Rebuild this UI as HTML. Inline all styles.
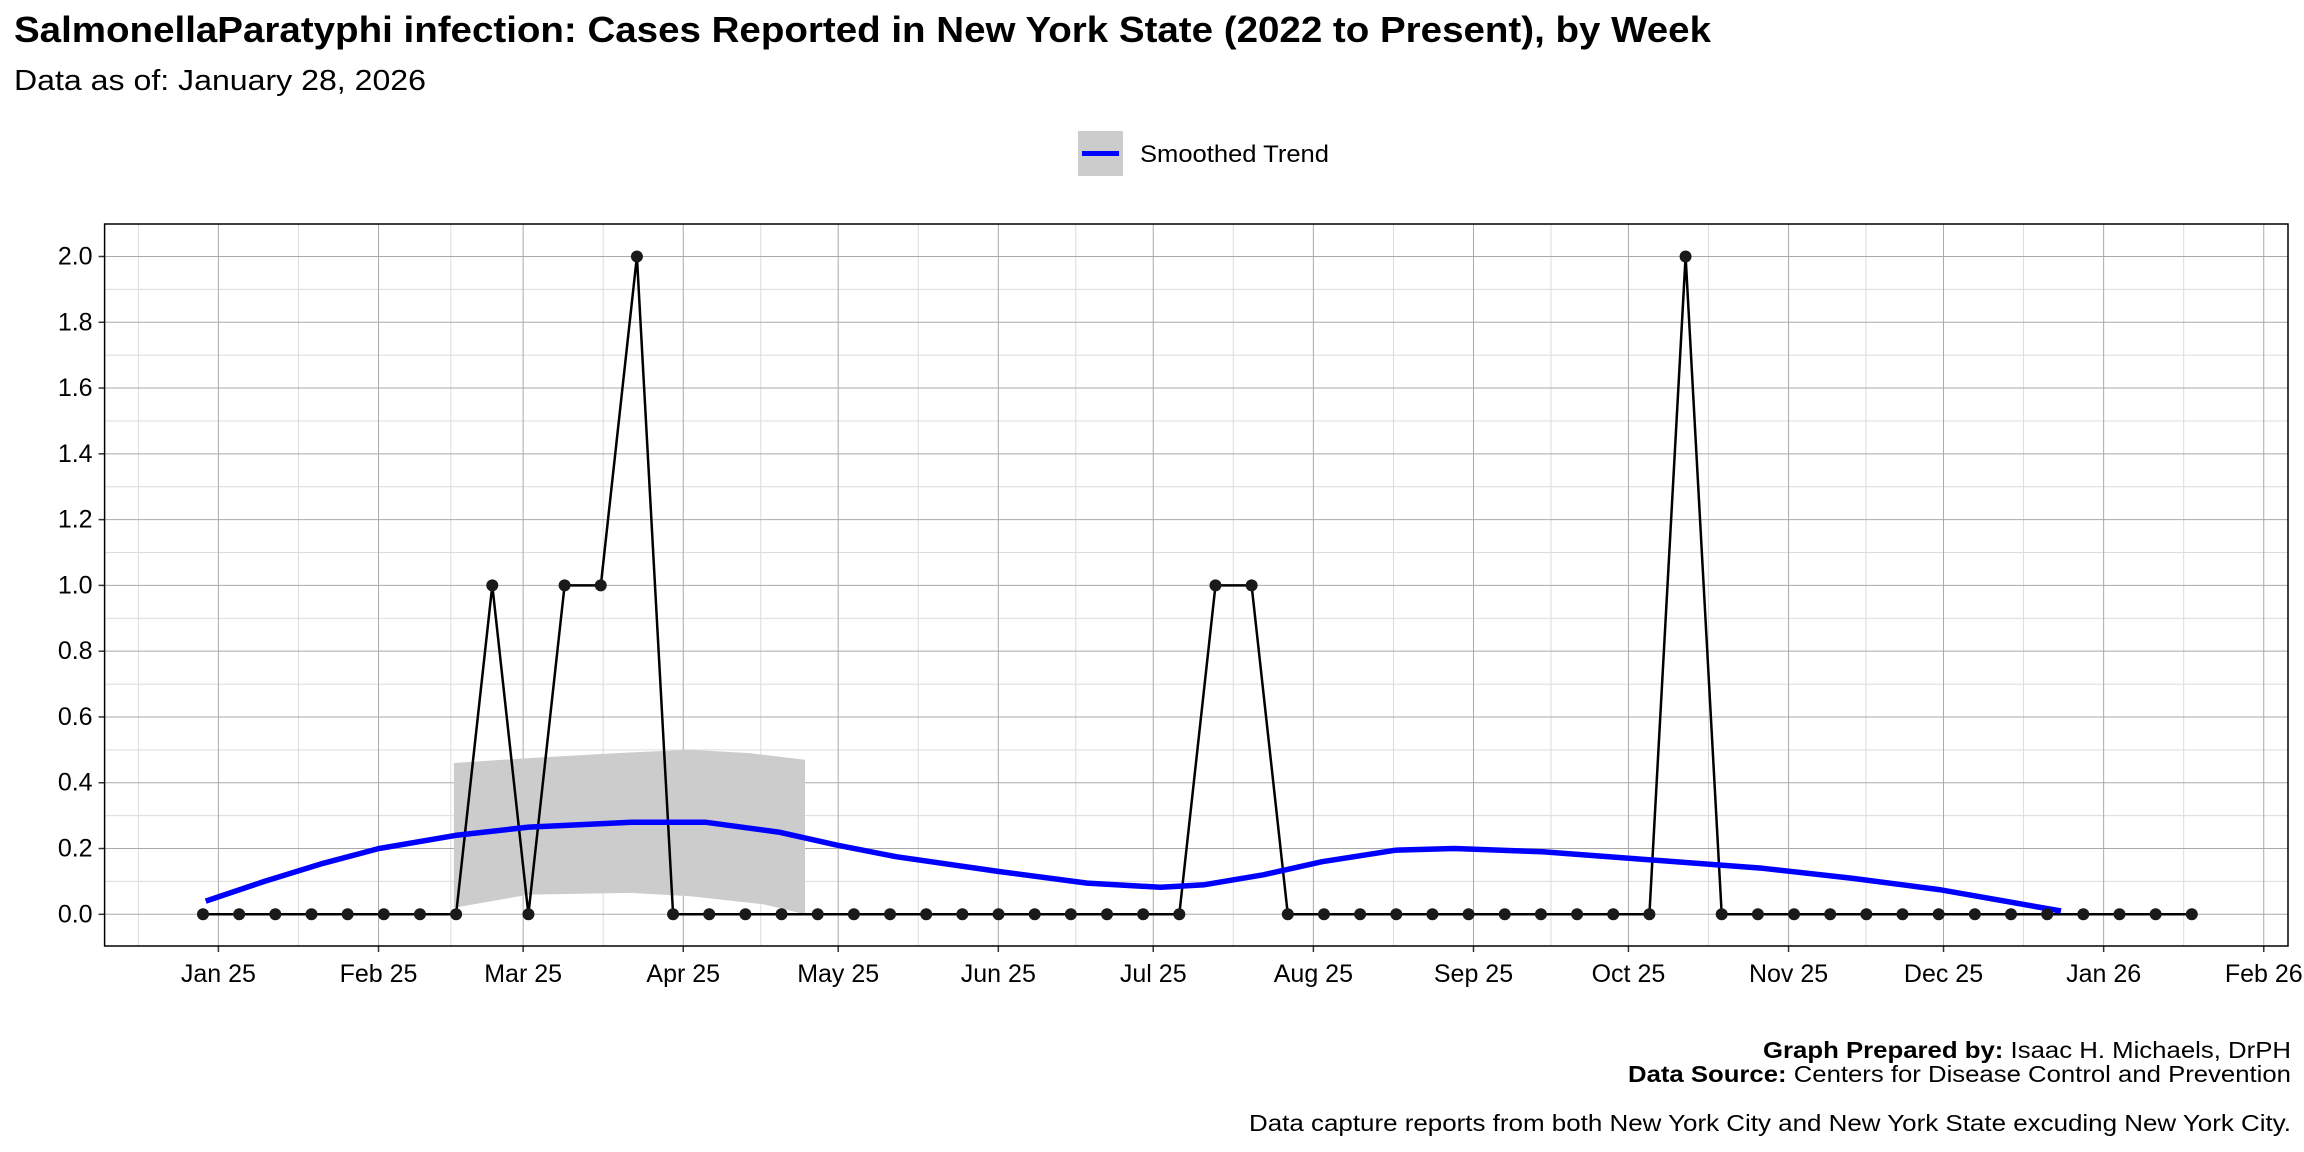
<!DOCTYPE html>
<html><head><meta charset="utf-8"><style>
html,body{margin:0;padding:0;background:#fff;}
svg{display:block;font-family:"Liberation Sans",Arial,sans-serif;}
</style></head><body>
<svg id="s" width="2304" height="1152" viewBox="0 0 2304 1152" xmlns="http://www.w3.org/2000/svg">
<rect width="2304" height="1152" fill="#fff"/>
<text x="14" y="42" font-size="36" font-weight="bold" textLength="1697" lengthAdjust="spacingAndGlyphs">SalmonellaParatyphi infection: Cases Reported in New York State (2022 to Present), by Week</text>
<text x="14" y="90" font-size="29" textLength="412" lengthAdjust="spacingAndGlyphs">Data as of: January 28, 2026</text>
<rect x="1078" y="131" width="45" height="45" fill="#cccccc"/>
<line x1="1082" y1="153.5" x2="1119" y2="153.5" stroke="#0000ff" stroke-width="5"/>
<text x="1140" y="162" font-size="24" textLength="189" lengthAdjust="spacingAndGlyphs">Smoothed Trend</text>
<g id="grid"></g>
<g id="data"></g>
<rect x="104.6" y="224" width="2183.4" height="722" fill="none" stroke="#000" stroke-width="1.5"/>
<g font-size="23">
<text x="1763" y="1058" textLength="528" lengthAdjust="spacingAndGlyphs"><tspan font-weight="bold">Graph Prepared by:</tspan> Isaac H. Michaels, DrPH</text>
<text x="1628" y="1082" textLength="663" lengthAdjust="spacingAndGlyphs"><tspan font-weight="bold">Data Source:</tspan> Centers for Disease Control and Prevention</text>
<text x="1249" y="1131" textLength="1042" lengthAdjust="spacingAndGlyphs">Data capture reports from both New York City and New York State excuding New York City.</text>
</g>
</svg>
<script>
(function(){
var NS="http://www.w3.org/2000/svg";
function el(p,t,a,txt){var e=document.createElementNS(NS,t);for(var k in a)e.setAttribute(k,a[k]);if(txt!==undefined)e.textContent=txt;p.appendChild(e);return e;}
var g=document.getElementById("grid"),d=document.getElementById("data");
var L=104.6,R=2288,T=224,B=946;
function Y(v){return 914.3-328.9*v;}
var ppd=5.165,x0=218.4;
for(var i=-1;i<=21;i+=2){var y=Y(i/10);if(y>T&&y<B)el(g,"line",{x1:L,x2:R,y1:y,y2:y,stroke:"#dcdcdc","stroke-width":1});}
var days=[0,31,59,90,120,151,181,212,243,273,304,334,365,396];
var mx=[x0-15.5*ppd];
for(var i=0;i<days.length-1;i++)mx.push(x0+(days[i]+days[i+1])/2*ppd);
mx.forEach(function(x){if(x>L&&x<R)el(g,"line",{x1:x,x2:x,y1:T,y2:B,stroke:"#dcdcdc","stroke-width":1});});
for(var i=0;i<=10;i++){var y=Y(i/5);el(g,"line",{x1:L,x2:R,y1:y,y2:y,stroke:"#a9a9a9","stroke-width":1});
el(g,"line",{x1:L-6,x2:L,y1:y,y2:y,stroke:"#333","stroke-width":1.5});
el(g,"text",{x:L-12,y:y+8,"font-size":25,"text-anchor":"end"},(i/5).toFixed(1));}
var lab=["Jan 25","Feb 25","Mar 25","Apr 25","May 25","Jun 25","Jul 25","Aug 25","Sep 25","Oct 25","Nov 25","Dec 25","Jan 26","Feb 26"];
days.forEach(function(dd,i){var x=x0+dd*ppd;el(g,"line",{x1:x,x2:x,y1:T,y2:B,stroke:"#a9a9a9","stroke-width":1});
el(g,"line",{x1:x,x2:x,y1:B,y2:B+6,stroke:"#333","stroke-width":1.5});
el(g,"text",{x:x,y:982,"font-size":25,"text-anchor":"middle"},lab[i]);});
var d2=function(dx){return dx*1.469;};
var bTop=[[309,.46],[360,.475],[420,.49],[470,.5],[510,.49],[548,.47]];
var bBot=[[548,0],[520,.03],[470,.055],[430,.065],[360,.06],[309,.02]];
var pts=bTop.concat(bBot).map(function(p){return d2(p[0]).toFixed(1)+","+Y(p[1]).toFixed(1);}).join(" ");
el(d,"polygon",{points:pts,fill:"#cccccc"});
var vals=[];for(var i=0;i<56;i++)vals.push(0);
vals[8]=1;vals[10]=1;vals[11]=1;vals[12]=2;vals[28]=1;vals[29]=1;vals[41]=2;
var px=203,st=36.16;
var lp=vals.map(function(v,i){return (px+i*st).toFixed(1)+","+Y(v).toFixed(1);}).join(" ");
el(d,"polyline",{points:lp,fill:"none",stroke:"#000","stroke-width":2.5,"stroke-linejoin":"round"});
var sm=[[140,.04],[180,.1],[220,.155],[258,.2],[310,.24],[360,.265],[430,.28],[480,.28],[530,.25],[570,.21],[610,.175],[680,.13],[740,.095],[790,.082],[820,.09],[860,.12],[900,.16],[950,.195],[990,.2],[1050,.19],[1110,.17],[1200,.14],[1260,.11],[1320,.075],[1403,.01]];
var s="M"+sm.map(function(p){return d2(p[0]).toFixed(1)+","+Y(p[1]).toFixed(1);}).join(" L");
el(d,"path",{d:s,fill:"none",stroke:"#0000ff","stroke-width":5.5,"stroke-linejoin":"round"});
vals.forEach(function(v,i){el(d,"circle",{cx:px+i*st,cy:Y(v),r:6,fill:"#1a1a1a"});});
})();
</script>
</body></html>
